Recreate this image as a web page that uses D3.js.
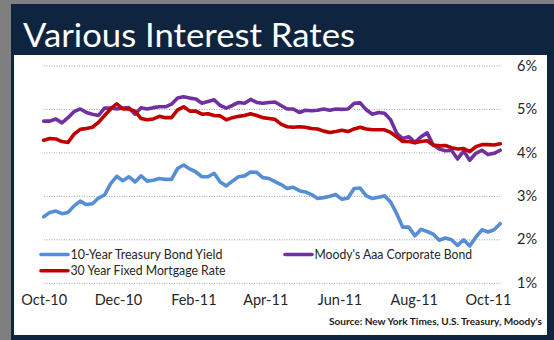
<!DOCTYPE html>
<html><head><meta charset="utf-8">
<script src="https://cdn.jsdelivr.net/npm/d3@7"></script>
<style>html,body{margin:0;padding:0;background:#7f7f7f;} svg{display:block;}</style>
</head><body>
<svg id="c" width="554" height="340"></svg>
<script>
const dates = ["2010-10-01","2010-10-06","2010-10-11","2010-10-16","2010-10-21","2010-10-26","2010-10-31",
"2010-11-05","2010-11-10","2010-11-15","2010-11-20","2010-11-25","2010-11-30",
"2010-12-05","2010-12-10","2010-12-15","2010-12-20","2010-12-25","2010-12-30",
"2011-01-04","2011-01-09","2011-01-14","2011-01-19","2011-01-24","2011-01-29",
"2011-02-03","2011-02-08","2011-02-13","2011-02-18","2011-02-23","2011-02-28",
"2011-03-05","2011-03-10","2011-03-15","2011-03-20","2011-03-25","2011-03-30",
"2011-04-04","2011-04-09","2011-04-14","2011-04-19","2011-04-24","2011-04-29",
"2011-05-04","2011-05-09","2011-05-14","2011-05-19","2011-05-24","2011-05-29",
"2011-06-03","2011-06-08","2011-06-13","2011-06-18","2011-06-23","2011-06-28",
"2011-07-03","2011-07-08","2011-07-13","2011-07-18","2011-07-23","2011-07-28",
"2011-08-02","2011-08-07","2011-08-12","2011-08-17","2011-08-22","2011-08-27",
"2011-09-01","2011-09-06","2011-09-11","2011-09-16","2011-09-21","2011-09-26",
"2011-10-01","2011-10-06","2011-10-11"];

const treasury = [2.52,2.62,2.65,2.59,2.62,2.77,2.88,2.80,2.82,2.95,3.02,3.28,3.45,
3.35,3.44,3.32,3.46,3.34,3.36,3.40,3.38,3.38,3.63,3.71,3.62,
3.55,3.44,3.44,3.52,3.32,3.23,3.34,3.44,3.46,3.55,3.54,3.42,
3.40,3.33,3.26,3.17,3.20,3.12,3.09,3.03,2.94,2.96,2.99,3.03,
2.92,2.95,3.17,3.18,3.00,2.94,2.97,3.00,2.86,2.59,2.28,2.28,
2.08,2.23,2.18,2.12,1.98,2.03,1.99,1.86,1.99,1.85,2.05,2.22,
2.17,2.22,2.36];

const moodys = [4.72,4.72,4.77,4.68,4.80,4.94,5.00,4.92,4.88,4.85,5.02,5.02,5.00,
5.02,5.03,4.88,5.03,5.00,5.03,5.05,5.05,5.11,5.25,5.28,5.25,
5.23,5.13,5.17,5.21,5.08,5.02,5.08,5.15,5.13,5.22,5.15,5.13,
5.15,5.16,5.08,5.00,5.00,4.92,4.97,4.96,4.97,5.00,4.97,5.00,
4.99,5.00,5.13,5.14,4.98,4.88,4.92,4.90,4.75,4.44,4.32,4.36,
4.23,4.36,4.45,4.17,4.08,4.04,4.05,3.85,4.03,3.82,3.98,4.05,
3.95,3.98,4.05];

const mortgage = [4.28,4.32,4.31,4.25,4.23,4.42,4.53,4.55,4.58,4.69,4.85,5.00,5.12,
5.00,5.00,4.95,4.78,4.75,4.77,4.83,4.80,4.80,4.98,5.05,4.95,
4.95,4.88,4.89,4.85,4.84,4.75,4.80,4.83,4.85,4.89,4.85,4.80,
4.78,4.76,4.65,4.59,4.58,4.59,4.58,4.55,4.54,4.49,4.46,4.48,
4.51,4.48,4.54,4.58,4.54,4.52,4.52,4.52,4.46,4.36,4.25,4.25,
4.22,4.25,4.27,4.17,4.15,4.16,4.11,4.08,4.09,4.02,4.13,4.18,
4.18,4.17,4.20];

const xTicks = ["2010-10-01","2010-12-01","2011-02-01","2011-04-01","2011-06-01","2011-08-01","2011-10-01"];
const yTicks = [1,2,3,4,5,6];
const seriesNames = ["10-Year Treasury Bond Yield","Moody's Aaa Corporate Bond","30 Year Fixed Mortgage Rate"];
const seriesColors = ["#558ed5","#7030a0","#c00000"];
const titleText = "Various Interest Rates";
const sourceText = "Source:  New York Times, U.S. Treasury, Moody's";

const parse = d3.utcParse("%Y-%m-%d");
const fmt = d3.utcFormat("%b-%y");
const svg = d3.select("#c");
const FONT = "Lato, 'Open Sans', sans-serif";

svg.append("rect").attr("x",0).attr("y",0).attr("width",554).attr("height",340).attr("fill","#7f7f7f");
svg.append("rect").attr("x",11).attr("y",4).attr("width",543).attr("height",336).attr("fill","#0f243e");
svg.append("rect").attr("x",14).attr("y",55).attr("width",533).attr("height",280).attr("fill","#ffffff");

svg.append("text").attr("x",23).attr("y",47).attr("fill","#ffffff")
  .attr("font-family",FONT).attr("font-size",33)
  .attr("textLength",332).attr("lengthAdjust","spacingAndGlyphs").text(titleText);

const x = d3.scaleUtc().domain([parse("2010-10-01"), parse("2011-10-01")]).range([43.7, 488]);
const y = d3.scaleLinear().domain([1,6]).range([282.8, 65.5]);

// y axis with gridlines
const gy = svg.append("g").attr("transform","translate(500,0)")
  .call(d3.axisRight(y).tickValues(yTicks).tickFormat(d => d + "%").tickSize(-457).tickPadding(17));
gy.select(".domain").remove();
gy.selectAll(".tick line").attr("stroke","#a6a6a6").attr("stroke-width",1).attr("stroke-dasharray","1,1.5");
gy.selectAll(".tick text").attr("font-family",FONT).attr("font-size",14.5).attr("fill","#262626");

// x axis
const gx = svg.append("g").attr("transform","translate(0,283)")
  .call(d3.axisBottom(x).tickValues(xTicks.map(parse)).tickFormat(fmt).tickSize(0).tickPadding(11.7));
gx.select(".domain").remove();
gx.selectAll(".tick text").attr("font-family",FONT).attr("font-size",14.5).attr("fill","#262626");

// lines
const seriesValues = [treasury, moodys, mortgage];
const line = d3.line().x((d,i) => x(parse(dates[i]))).y(d => y(d)).curve(d3.curveLinear);
seriesValues.forEach((vals, s) => {
  svg.append("path").datum(vals).attr("d", line)
    .attr("fill","none").attr("stroke",seriesColors[s]).attr("stroke-width",3.6)
    .attr("stroke-linejoin","round").attr("stroke-linecap","round");
});

// legend
const legendPos = [
  {lx:41, ty:258.8, ly:254.5, tl:152},
  {lx:285, ty:258.8, ly:254.5, tl:157.5},
  {lx:41, ty:275, ly:270.7, tl:155}
];
seriesNames.forEach((name, s) => {
  const p = legendPos[s];
  svg.append("line").attr("x1",p.lx).attr("x2",p.lx+27).attr("y1",p.ly).attr("y2",p.ly)
    .attr("stroke",seriesColors[s]).attr("stroke-width",3.6).attr("stroke-linecap","round");
  svg.append("text").attr("x",p.lx+29.5).attr("y",p.ty).attr("fill","#262626")
    .attr("font-family",FONT).attr("font-size",12.5)
    .attr("textLength",p.tl).attr("lengthAdjust","spacingAndGlyphs").text(name);
});

svg.append("text").attr("x",329).attr("y",324.5).attr("fill","#1a1a1a")
  .attr("font-family",FONT).attr("font-size",9.5).attr("font-weight","bold")
  .attr("textLength",213).attr("lengthAdjust","spacingAndGlyphs").text(sourceText);
</script>
</body></html>
